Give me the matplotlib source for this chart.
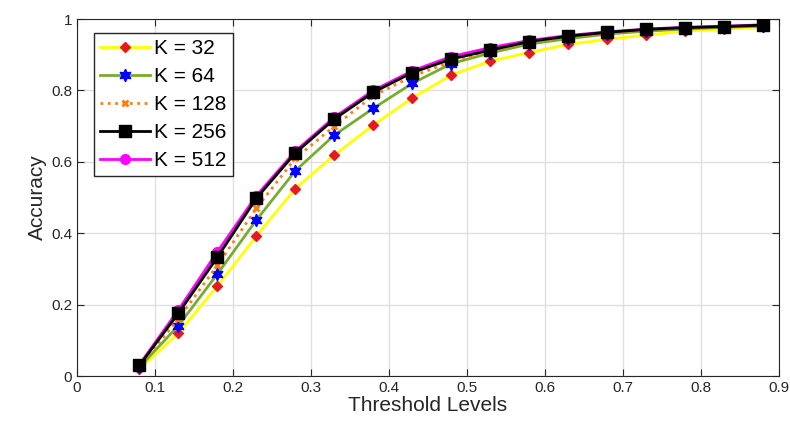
import numpy as np
import matplotlib.pyplot as plt

plt.rcParams['font.family'] = ['Liberation Sans', 'DejaVu Sans']

thresholds = [0.08, 0.13, 0.18, 0.23, 0.28, 0.33, 0.38, 0.43, 0.48,
              0.53, 0.58, 0.63, 0.68, 0.73, 0.78, 0.83, 0.88]

acc_32 = [0.020, 0.120, 0.252, 0.392, 0.525, 0.619, 0.703, 0.779, 0.843,
          0.882, 0.906, 0.929, 0.943, 0.955, 0.966, 0.972, 0.978]
acc_64 = [0.025, 0.141, 0.286, 0.437, 0.575, 0.675, 0.750, 0.820, 0.875,
          0.905, 0.930, 0.945, 0.958, 0.966, 0.972, 0.977, 0.980]
acc_128 = [0.028, 0.160, 0.310, 0.470, 0.610, 0.700, 0.785, 0.840, 0.880,
           0.910, 0.935, 0.950, 0.961, 0.969, 0.975, 0.978, 0.982]
acc_256 = [0.030, 0.176, 0.333, 0.498, 0.625, 0.720, 0.795, 0.850, 0.888,
           0.913, 0.937, 0.952, 0.963, 0.971, 0.976, 0.979, 0.983]
acc_512 = [0.032, 0.185, 0.348, 0.505, 0.630, 0.725, 0.800, 0.855, 0.895,
           0.920, 0.940, 0.954, 0.964, 0.972, 0.977, 0.980, 0.984]

fig = plt.figure(figsize=(7.9, 4.23), dpi=100)
ax = fig.add_axes([0.0975, 0.111, 0.8885, 0.844])

ax.plot(thresholds, acc_32, color='#FFFF00', lw=2, marker='D', ms=5,
        mfc='#E41A1C', mec='#E41A1C', label='K = 32', zorder=3)
ax.plot(thresholds, acc_64, color='#77AC30', lw=2, marker=(6, 1, 0), ms=9,
        mfc='#0000FF', mec='#0000FF', label='K = 64', zorder=4)
ax.plot(thresholds, acc_128, color='#FF7F0E', lw=2, ls=':', marker='x', ms=5,
        mew=2, mfc='#FF7F0E', mec='#FF7F0E', label='K = 128', zorder=5)
ax.plot(thresholds, acc_256, color='black', lw=2, marker='s', ms=8,
        mfc='black', mec='black', label='K = 256', zorder=7)
ax.plot(thresholds, acc_512, color='#FF00FF', lw=2, marker='o', ms=7,
        mfc='#FF00FF', mec='#FF00FF', label='K = 512', zorder=6)

ax.set_xlim(0, 0.9)
ax.set_ylim(0, 1)
ax.set_xticks(np.arange(0, 0.91, 0.1))
ax.set_xticklabels(['0', '0.1', '0.2', '0.3', '0.4', '0.5', '0.6', '0.7', '0.8', '0.9'])
ax.set_yticks(np.arange(0, 1.01, 0.2))
ax.set_yticklabels(['0', '0.2', '0.4', '0.6', '0.8', '1'])
ax.grid(True, color='#DFDFDF', lw=1)
ax.set_axisbelow(True)
ax.tick_params(direction='in', top=True, right=True, labelsize=11,
               colors='#262626', length=5)
for s in ax.spines.values():
    s.set_color('#262626')

ax.set_xlabel('Threshold Levels', fontsize=15, color='#262626', labelpad=1)
ax.set_ylabel('Accuracy', fontsize=15, color='#262626', labelpad=3)

leg = ax.legend(loc='upper left', bbox_to_anchor=(0.024, 0.961), fontsize=15,
                fancybox=False, edgecolor='#262626', framealpha=1,
                handlelength=2.4, borderpad=0.3, labelspacing=0.43,
                handletextpad=0.2, borderaxespad=0)
leg.get_frame().set_linewidth(1)

fig.savefig('out.png', dpi=100)
